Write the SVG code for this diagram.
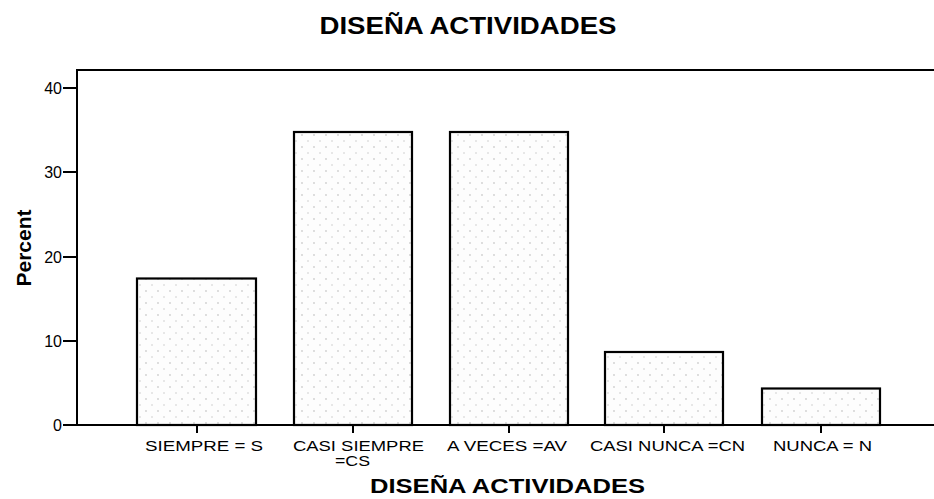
<svg xmlns="http://www.w3.org/2000/svg" width="934" height="499" viewBox="0 0 934 499">
<style>
.title{font-family:"Liberation Sans",Arial,sans-serif;font-weight:bold;fill:#000}
.lbl{font-family:"Liberation Sans",Arial,sans-serif;font-size:14px;fill:#000}
.tick{font-family:"Liberation Sans",Arial,sans-serif;font-size:16px;fill:#000}
.bar{fill:url(#dots);stroke:#000;stroke-width:2.2}
.ax{stroke:#000;stroke-width:2;fill:none}
</style>
<defs>
<pattern id="dots" width="12" height="12" patternUnits="userSpaceOnUse">
<rect width="12" height="12" fill="#fdfdfd"/>
<circle cx="2" cy="3" r="0.7" fill="#a8a8a8"/>
<circle cx="8" cy="9" r="0.7" fill="#c0c0c0"/>
</pattern>
</defs>
<rect width="934" height="499" fill="#fff"/>
<text class="title" x="468" y="34" font-size="23" text-anchor="middle" textLength="297" lengthAdjust="spacingAndGlyphs">DISEÑA ACTIVIDADES</text>
<g id="frame">
<path class="ax" d="M934 70 H77 V425 H934"/>
</g>
<g id="yaxis">
<path class="ax" d="M63 88 H77 M63 172 H77 M63 257 H77 M63 341 H77 M63 425 H77"/>
<text class="tick" x="62" y="94" text-anchor="end">40</text>
<text class="tick" x="62" y="178" text-anchor="end">30</text>
<text class="tick" x="62" y="263" text-anchor="end">20</text>
<text class="tick" x="62" y="347" text-anchor="end">10</text>
<text class="tick" x="62" y="431" text-anchor="end">0</text>
<text class="title" font-size="20" transform="translate(31 248) rotate(-90)" text-anchor="middle" textLength="77" lengthAdjust="spacingAndGlyphs">Percent</text>
</g>
<g id="bar-s"><rect class="bar" x="137" y="278.5" width="119" height="146.5"/></g>
<g id="bar-cs"><rect class="bar" x="294" y="132" width="118" height="293"/></g>
<g id="bar-av"><rect class="bar" x="450" y="132" width="118" height="293"/></g>
<g id="bar-cn"><rect class="bar" x="605" y="352" width="118" height="73"/></g>
<g id="bar-n"><rect class="bar" x="762" y="388.5" width="118" height="36.5"/></g>
<g id="xticks">
<path class="ax" d="M197 425 V433 M353 425 V433 M509 425 V433 M664 425 V433 M821 425 V433"/>
</g>
<g id="xlabels">
<text class="lbl" x="204" y="451" text-anchor="middle" textLength="118" lengthAdjust="spacingAndGlyphs">SIEMPRE = S</text>
<text class="lbl" x="358.5" y="451" text-anchor="middle" textLength="131" lengthAdjust="spacingAndGlyphs">CASI SIEMPRE</text>
<text class="lbl" x="352.5" y="466" text-anchor="middle" textLength="35" lengthAdjust="spacingAndGlyphs">=CS</text>
<text class="lbl" x="507" y="451" text-anchor="middle" textLength="120" lengthAdjust="spacingAndGlyphs">A VECES =AV</text>
<text class="lbl" x="667.5" y="451" text-anchor="middle" textLength="155" lengthAdjust="spacingAndGlyphs">CASI NUNCA =CN</text>
<text class="lbl" x="822.5" y="451" text-anchor="middle" textLength="99" lengthAdjust="spacingAndGlyphs">NUNCA = N</text>
</g>
<text class="title" x="507.5" y="493" font-size="21" text-anchor="middle" textLength="275" lengthAdjust="spacingAndGlyphs">DISEÑA ACTIVIDADES</text>
</svg>
